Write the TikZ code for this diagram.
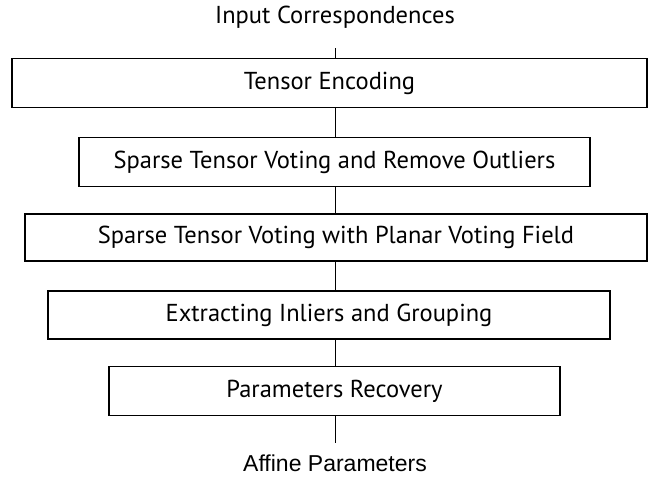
\documentclass[tikz,border=0pt]{standalone}
\usepackage{fontspec}
\setmainfont{PT Sans}
\newfontfamily\arialfont{Liberation Sans}

\begin{document}
\begin{tikzpicture}[x=1pt, y=-1pt, thick, node distance=77pt, box node/.style={draw, line width=1.6pt, minimum height=49pt, inner sep=0pt}, text node/.style={draw=none}, link/.style={line width=.8pt}, font=\fontsize{24.5}{28}\selectfont]
\useasboundingbox (0,0) rectangle (657,480);
\coordinate (axis) at (335,0);
\node[text node](input) at (335,17){Input Correspondences};
\node[box node, minimum width=635pt](tensor) at (329.5,83){Tensor Encoding};
\node[box node, minimum width=511pt, node distance=79pt, xshift=5pt](outliers)[below of=tensor]{Sparse Tensor Voting and Remove Outliers};
\node[box node, minimum width=622pt, minimum height=47pt, node distance=75.5pt, xshift=1.5pt](planar)[below of=outliers]{Sparse Tensor Voting with Planar Voting Field};
\node[box node, minimum width=562pt, minimum height=48pt, node distance=77.5pt, xshift=-7pt](grouping)[below of=planar]{Extracting Inliers and Grouping};
\node[box node, minimum width=451pt, node distance=76pt, xshift=5.5pt](recovery)[below of=grouping]{Parameters Recovery};
\node[text node, font=\arialfont\fontsize{23}{26}\selectfont](affine) at (335,463){Affine Parameters};
\coordinate (in end) at (335,48);
\coordinate (out end) at (335,443);
\draw[link] (in end) -- (in end |- tensor.north);
\foreach \s/\t in {tensor/outliers, outliers/planar, planar/grouping, grouping/recovery}{
    \draw[link] (\s.south -| axis) -- (\t.north -| axis);}
\draw[link] (recovery.south -| axis) -- (out end);
\end{tikzpicture}
\end{document}
